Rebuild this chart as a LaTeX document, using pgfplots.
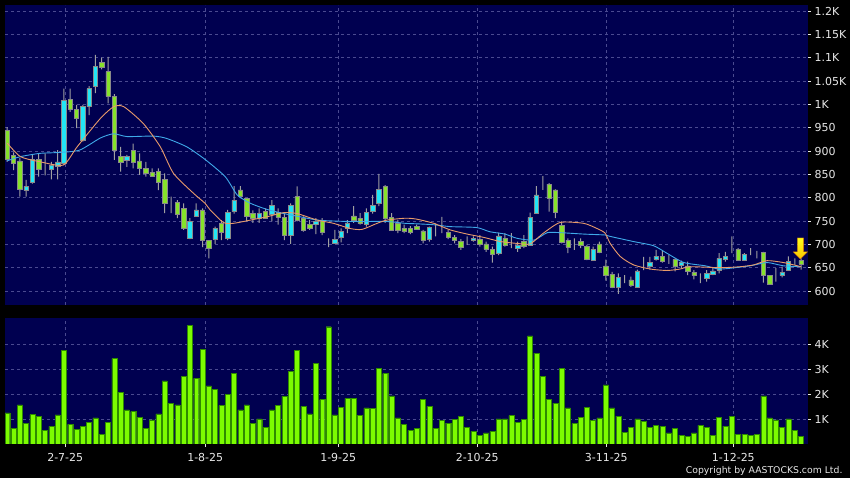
\documentclass[border=0pt]{standalone}
\usepackage{fontspec}
\setmainfont{DejaVu Sans}
\usepackage{pgfplots}
\pgfplotsset{compat=1.18}
\usepackage{pgfplotstable}
\usetikzlibrary{shapes.arrows}

\definecolor{navy}{HTML}{000050}
\definecolor{gridc}{HTML}{4A4A90}
\definecolor{labc}{HTML}{E8E8E8}
\definecolor{greenc}{HTML}{86E22A}
\definecolor{cyanc}{HTML}{22E5F5}
\definecolor{outl}{HTML}{8A8A8A}
\definecolor{wickc}{HTML}{A0A0A0}
\definecolor{maA}{HTML}{E89A6A}
\definecolor{maB}{HTML}{3FA9E8}
\definecolor{volc}{HTML}{7CFC00}
\definecolor{voledge}{HTML}{2E8B00}
\definecolor{arrowc}{HTML}{F8C400}

% i open high low close volume(K)
\pgfplotstableread{
i o h l c v
0 945 951 877 883 1.25
1 890 897 859 874 0.64
2 879 885 802 819 1.57
3 815 838 802 824 0.82
4 834 891 830 882 1.18
5 882 895 845 861 1.10
6 866 895 848 866 0.55
7 861 877 839 870 0.71
8 868 902 839 877 1.17
9 874 1034 870 1009 3.75
10 1011 1034 984 989 0.79
11 989 999 949 970 0.58
12 924 999 920 995 0.71
13 995 1039 977 1034 0.86
14 1039 1106 1024 1081 1.05
15 1090 1100 1075 1079 0.38
16 1070 1102 1002 1017 0.86
17 1017 1022 881 902 3.42
18 888 909 856 876 2.07
19 881 892 866 888 1.37
20 901 916 863 876 1.30
21 879 895 849 863 1.08
22 863 877 845 852 0.62
23 854 863 845 847 0.97
24 856 863 816 834 1.21
25 839 852 767 788 2.53
26 788 802 767 788 1.64
27 790 795 756 765 1.57
28 777 788 731 734 2.70
29 713 756 711 749 4.76
30 761 788 759 774 2.63
31 774 777 694 709 3.78
32 709 709 670 691 2.33
33 711 738 701 734 2.20
34 745 752 709 726 1.54
35 713 774 709 769 1.99
36 770 825 766 794 2.82
37 817 825 799 802 1.37
38 799 799 749 761 1.57
39 766 773 746 756 0.82
40 756 777 746 766 1.01
41 770 777 756 756 0.68
42 765 795 749 783 1.37
43 769 777 742 758 1.54
44 758 766 709 720 1.91
45 720 788 701 784 2.92
46 802 824 749 752 3.75
47 756 760 727 731 1.51
48 743 752 731 734 1.21
49 744 756 722 750 3.22
50 752 756 720 726 1.78
51 702 713 694 702 4.70
52 702 731 701 711 1.17
53 715 734 704 727 1.47
54 734 752 724 746 1.83
55 761 782 746 752 1.83
56 756 767 742 745 1.14
57 742 777 738 769 1.45
58 770 806 766 784 1.43
59 787 851 782 818 3.03
60 824 827 746 756 2.82
61 757 767 729 731 1.93
62 745 752 724 731 1.05
63 734 742 724 727 0.78
64 734 739 722 726 0.55
65 739 742 731 733 0.64
66 729 731 702 709 1.80
67 711 738 706 736 1.51
68 733 745 717 733 0.64
69 733 759 724 733 0.95
70 725 731 711 715 0.84
71 715 720 702 708 0.99
72 707 711 688 694 1.10
73 705 717 699 705 0.68
74 708 717 706 713 0.51
75 711 720 695 700 0.36
76 701 706 684 689 0.45
77 689 695 661 679 0.51
78 681 725 677 718 1.01
79 713 724 695 699 1.01
80 706 724 692 706 1.14
81 692 706 684 697 0.86
82 707 720 692 695 0.99
83 699 768 698 758 4.33
84 766 825 766 806 3.64
85 829 846 817 829 2.70
86 829 831 770 799 1.80
87 817 818 756 769 1.64
88 741 749 702 704 3.03
89 709 713 681 694 1.45
90 695 713 688 695 0.82
91 706 713 692 697 1.08
92 695 699 666 668 1.47
93 666 695 665 689 0.95
94 701 706 681 684 1.05
95 654 667 622 634 2.37
96 636 641 606 609 1.45
97 608 638 594 629 1.12
98 629 634 617 629 0.46
99 624 631 609 612 0.68
100 609 646 609 643 1.01
101 656 673 645 656 0.92
102 652 673 646 661 0.68
103 668 688 665 674 0.75
104 674 686 661 663 0.71
105 666 677 658 666 0.45
106 668 670 642 652 0.64
107 656 665 649 661 0.36
108 654 663 634 643 0.32
109 640 645 625 633 0.45
110 629 638 617 629 0.75
111 627 645 620 638 0.68
112 636 649 634 643 0.36
113 645 681 638 670 1.08
114 668 684 663 675 0.72
115 686 717 681 686 1.10
116 689 692 665 666 0.39
117 666 681 665 678 0.39
118 686 692 677 686 0.36
119 679 686 670 679 0.38
120 683 684 618 634 1.93
121 633 634 613 614 1.05
122 624 649 620 624 0.97
123 633 652 629 640 0.68
124 645 674 644 663 1.01
125 663 670 656 663 0.55
126 665 670 646 658 0.32
}\candles

% short moving average (orange)
\pgfplotstableread{
x y
0 917
2.1 888
5.2 877
8.9 870
11.1 909
14.8 970
16.9 995
18.5 995
21.6 959
24.3 909
26.4 852
29.6 809
31.4 788
32.2 774
34.3 747
35.9 745
38.6 752
41.2 759
43.9 768
46 766
49.2 752
51.8 745
54.4 734
56.3 732
58.7 745
60.3 752
63.2 756
65 754
67.7 745
70.3 731
73 722
75.6 715
78.3 706
80.9 702
83 701
85.1 724
87.8 747
91.5 745
93.6 734
94.9 724
95.7 702
97.3 674
99.4 656
102.1 647
104.7 644
106.8 647
108.4 652
113.2 650
116.3 652
118.5 656
120.6 665
123.2 661
126 652
}\maone

% long moving average (blue)
\pgfplotstableread{
x y
0 879
2.1 888
5.2 895
8.3 897
11.5 902
14.8 928
16.9 937
19 931
23.2 932
25.3 927
28.5 909
31.4 882
34.6 845
36.5 806
38.6 788
41.2 775
43.9 766
46.5 759
49.2 752
51.8 750
54.4 749
57 749
60.3 749
63.2 745
65 744
67.7 742
70.3 738
74.5 736
76.6 727
79 722
80.9 713
83.6 709
85.7 725
87.8 725
91.5 722
94.9 720
95.7 717
99.4 706
102.6 697
104.7 681
107.4 661
110.8 654
113.2 647
117.9 654
120.6 661
123.2 654
126 652
}\matwo

\pgfplotsset{
  panel/.style={scale only axis, width=803pt, xmin=-0.35, xmax=127.1,
    axis line style={draw=none},
    xtick={9.21,31.43,52.54,74.6,95.08,115.24},
    tick align=outside, major tick length=3pt,
    tick style={draw=labc, line width=0.6pt},
    grid style={gridc, dash pattern=on 3pt off 3pt, line width=0.6pt},
    ticklabel style={font=\fontsize{11}{13}\selectfont, text=labc}},
  price/.style={panel, at={(5pt,173pt)}, anchor=south west, height=300pt,
    ymin=570, ymax=1213},
}

\begin{document}
\begin{tikzpicture}
\path[use as bounding box] (0,0) rectangle (850pt,478pt);
\fill[black] (0,0) rectangle (850pt,478pt);

% price panel: background, grid, wicks
\begin{axis}[price, xticklabels={}, axis background/.style={fill=navy},
  xtick style={draw=none},
  ytick={600,650,...,1200},
  yticklabels={600,650,700,750,800,850,900,950,1K,1.05K,1.1K,1.15K,1.2K},
  ytick pos=right, yticklabel pos=right, yticklabel style={anchor=west},
  xmajorgrids, ymajorgrids, ybar stacked, bar width=1pt]
\addplot[draw=none, fill=none] table[x=i, y=l] {\candles};
\addplot[fill=wickc, draw=none] table[x=i, y expr=\thisrow{h}-\thisrow{l}] {\candles};
\end{axis}

% candle bodies
\begin{axis}[price, hide axis, ybar stacked, bar width=4.4pt]
\addplot[draw=none, fill=none] table[x=i, y expr={min(\thisrow{o},\thisrow{c})}] {\candles};
\addplot[fill=cyanc, draw=outl, line width=0.5pt] table[x=i, y expr={max(\thisrow{c}-\thisrow{o},0)}] {\candles};
\addplot[fill=greenc, draw=outl, line width=0.5pt] table[x=i, y expr={max(\thisrow{o}-\thisrow{c},0)}] {\candles};
\end{axis}

% moving averages
\begin{axis}[price, hide axis]
\addplot[maB, line width=0.9pt, smooth, tension=0.4, no marks] table[x=x, y=y] {\matwo};
\addplot[maA, line width=0.9pt, smooth, tension=0.4, no marks] table[x=x, y=y] {\maone};
\node[single arrow, shape border rotate=270, top color=yellow!90!white, bottom color=arrowc,
  draw=orange!85!black, line width=0.4pt, minimum height=21pt, minimum width=14pt,
  inner sep=3pt, single arrow head extend=4pt, anchor=tip] at (axis cs:125.9,668) {};
\end{axis}

% volume panel
\begin{axis}[panel, at={(5pt,34pt)}, anchor=south west, height=126pt,
  ymin=0, ymax=5.05, axis background/.style={fill=navy},
  xticklabels={2-7-25,1-8-25,1-9-25,2-10-25,3-11-25,1-12-25},
  xtick pos=bottom, xticklabel style={yshift=-3pt},
  ytick={1,2,3,4}, yticklabels={1K,2K,3K,4K},
  ytick pos=right, yticklabel pos=right, yticklabel style={anchor=west},
  xmajorgrids, ymajorgrids, ybar, bar width=5pt]
\addplot[fill=volc, draw=voledge, line width=0.4pt] table[x=i, y=v] {\candles};
\end{axis}

\node[anchor=east, text=labc, font=\fontsize{9.3}{11}\selectfont] at (846pt,7pt) {Copyright by AASTOCKS.com Ltd.};
\end{tikzpicture}
\end{document}
